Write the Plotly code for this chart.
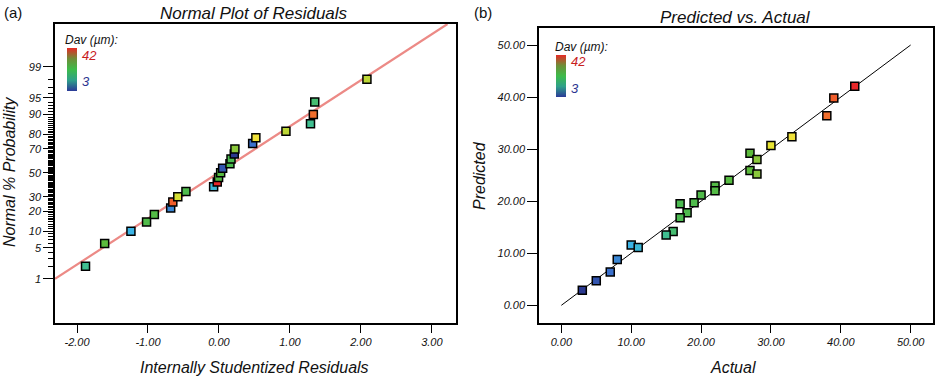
import plotly.graph_objects as go
from statistics import NormalDist

# ---------------- data ----------------
# (a) Normal plot of residuals
resid = [-1.88, -1.61, -1.24, -1.02, -0.91, -0.68, -0.65, -0.58, -0.465, -0.075,
         -0.024, -0.005, 0.024, 0.052, 0.155, 0.17, 0.216, 0.225, 0.475, 0.52,
         0.944, 1.29, 1.33, 1.35, 2.085]
resid_pct = [2, 6, 10, 14, 18, 22, 26, 30, 34, 38, 42, 46, 50, 54, 58, 62, 66,
             70, 74, 78, 82, 86, 90, 94, 98]
resid_dav = [15, 27, 10, 20, 22, 8, 39, 29.5, 19, 11, 42, 22, 24, 5, 18, 17, 3,
             28, 7, 33, 29, 15, 38, 16, 29]
fit_x = [-2.31, 3.22]
fit_z = [-2.33, 3.27]
prob_ticks = [1, 5, 10, 20, 30, 50, 70, 80, 90, 95, 99]
prob_minor = list(range(1, 100))
resid_ticks = [-2, -1, 0, 1, 2, 3]
resid_ticktext = ["-2.00", "-1.00", "0.00", "1.00", "2.00", "3.00"]

# (b) Predicted vs actual
actual = [42, 39, 38, 33, 30, 27, 28, 27, 28, 24, 22, 22, 20, 19, 17, 18, 17,
          16, 15, 10, 11, 8, 7, 5, 3]
predicted = [42.1, 39.8, 36.4, 32.4, 30.7, 29.2, 28.0, 25.9, 25.2, 24.0, 22.9,
             22.0, 21.2, 19.7, 19.5, 17.8, 16.8, 14.2, 13.5, 11.6, 11.1, 8.8,
             6.4, 4.7, 2.9]
diag = [0, 50]
pa_ticks = [0, 10, 20, 30, 40, 50]
pa_ticktext = ["0.00", "10.00", "20.00", "30.00", "40.00", "50.00"]
dav_min, dav_max = 3, 42

# ---------------- styling ----------------
nd = NormalDist()
resid_z = [nd.inv_cdf(p / 100) for p in resid_pct]

W, H = 940, 382
FONT = "Liberation Sans, Arial, sans-serif"

point_scale = [
    [0.00, "#2B3990"], [0.10, "#3B6FCC"], [0.18, "#3BB4E6"], [0.30, "#3EC09A"],
    [0.36, "#4CBB50"], [0.62, "#5CBB3C"], [0.655, "#A8D13A"], [0.69, "#E8E432"],
    [0.80, "#F2E03C"], [0.88, "#F47A2C"], [1.00, "#E8282A"],
]
legend_scale = [
    [0.0, "#2B3A98"], [0.25, "#2FA08A"], [0.5, "#3DBB4A"], [0.75, "#6E8E38"],
    [1.0, "#E62A26"],
]

def px(x):
    return x / W

def py(y):
    return 1 - y / H

fig = go.Figure()

marker_common = dict(symbol="square", size=8, colorscale=point_scale,
                     cmin=dav_min, cmax=dav_max,
                     line=dict(color="black", width=1.5))

# left panel
fig.add_trace(go.Scatter(x=fit_x, y=fit_z, mode="lines",
                         line=dict(color="#EC8A86", width=2.2),
                         xaxis="x", yaxis="y", hoverinfo="skip"))
fig.add_trace(go.Scatter(x=resid, y=resid_z, mode="markers",
                         marker=dict(color=resid_dav, **marker_common),
                         xaxis="x", yaxis="y"))
# right panel
fig.add_trace(go.Scatter(x=diag, y=diag, mode="lines",
                         line=dict(color="black", width=1),
                         xaxis="x2", yaxis="y2", hoverinfo="skip"))
fig.add_trace(go.Scatter(x=actual, y=predicted, mode="markers",
                         marker=dict(color=actual, **marker_common),
                         xaxis="x2", yaxis="y2"))

# legend colour bars
def legend_bar(xaxis, yaxis, x0, y0, y1):
    return go.Scatter(
        x=[None], y=[None], mode="markers", xaxis=xaxis, yaxis=yaxis,
        marker=dict(color=[dav_min], cmin=dav_min, cmax=dav_max,
                    colorscale=legend_scale, showscale=True,
                    colorbar=dict(x=px(x0), xanchor="left",
                                  y=py((y0 + y1) / 2), yanchor="middle",
                                  lenmode="pixels", len=y1 - y0,
                                  thicknessmode="pixels", thickness=10,
                                  xpad=0, ypad=0, outlinewidth=0,
                                  showticklabels=False, ticks="")),
        hoverinfo="skip")

fig.add_trace(legend_bar("x", "y", 67, 48, 91))
fig.add_trace(legend_bar("x2", "y2", 556, 55, 97))

tickfont = dict(family=FONT, size=11, color="#111", style="italic")
axis_common = dict(showline=True, linecolor="black", linewidth=1.5, mirror=True,
                   ticks="outside", tickcolor="black", tickwidth=1,
                   showgrid=False, zeroline=False, tickfont=tickfont)

fig.update_layout(
    width=W, height=H, margin=dict(l=0, r=0, t=0, b=0),
    paper_bgcolor="white", plot_bgcolor="white", showlegend=False,
    xaxis=dict(domain=[px(55), px(456)], range=[-2.31, 3.34],
               tickvals=resid_ticks, ticktext=resid_ticktext, ticklen=8,
               anchor="y", **axis_common),
    yaxis=dict(domain=[py(323), py(24)], range=[-3.30, 3.27],
               tickvals=[nd.inv_cdf(p / 100) for p in prob_ticks],
               ticktext=[str(p) for p in prob_ticks], ticklen=10,
               minor=dict(tickvals=[nd.inv_cdf(p / 100) for p in prob_minor],
                          ticks="outside", ticklen=5, tickcolor="black",
                          tickwidth=1),
               anchor="x", **axis_common),
    xaxis2=dict(domain=[px(539), px(933)], range=[-3.2, 53.2],
                tickvals=pa_ticks, ticktext=pa_ticktext, ticklen=8,
                anchor="y2", **axis_common),
    yaxis2=dict(domain=[py(323), py(28)], range=[-3.4, 53.27],
                tickvals=pa_ticks, ticktext=pa_ticktext, ticklen=10,
                anchor="x2", **axis_common),
)

def ann(text, x, y, size=16, color="#111", xanchor="center", angle=0,
        italic=True):
    fig.add_annotation(text=text, x=px(x), y=py(y), xref="paper", yref="paper",
                       showarrow=False, xanchor=xanchor, yanchor="middle",
                       textangle=angle,
                       font=dict(family=FONT, size=size, color=color,
                                 style="italic" if italic else "normal"))

# panel labels
ann("(a)", 2, 12, size=15, xanchor="left", italic=False)
ann("(b)", 472, 12, size=15, xanchor="left", italic=False)
# titles
ann("Normal Plot of Residuals", 254, 13, size=17)
ann("Predicted vs. Actual", 735, 18, size=17)
# axis titles
ann("Internally Studentized Residuals", 254, 367)
ann("Actual", 733, 367)
ann("Normal % Probability", 10, 172, angle=-90)
ann("Predicted", 479, 176, angle=-90)
# legend texts
ann("Dav (µm):", 63, 40, size=12, xanchor="left")
ann("42", 80, 55, size=13, color="#C8201E", xanchor="left")
ann("3", 80, 82, size=13, color="#2B3590", xanchor="left")
ann("Dav (µm):", 553, 47, size=12, xanchor="left")
ann("42", 569, 61, size=13, color="#C8201E", xanchor="left")
ann("3", 569, 88, size=13, color="#2B3590", xanchor="left")

fig.write_html(
    "out.html",
    config={"displayModeBar": False},
    post_script="document.body.style.margin='0';document.body.style.padding='0';",
)
